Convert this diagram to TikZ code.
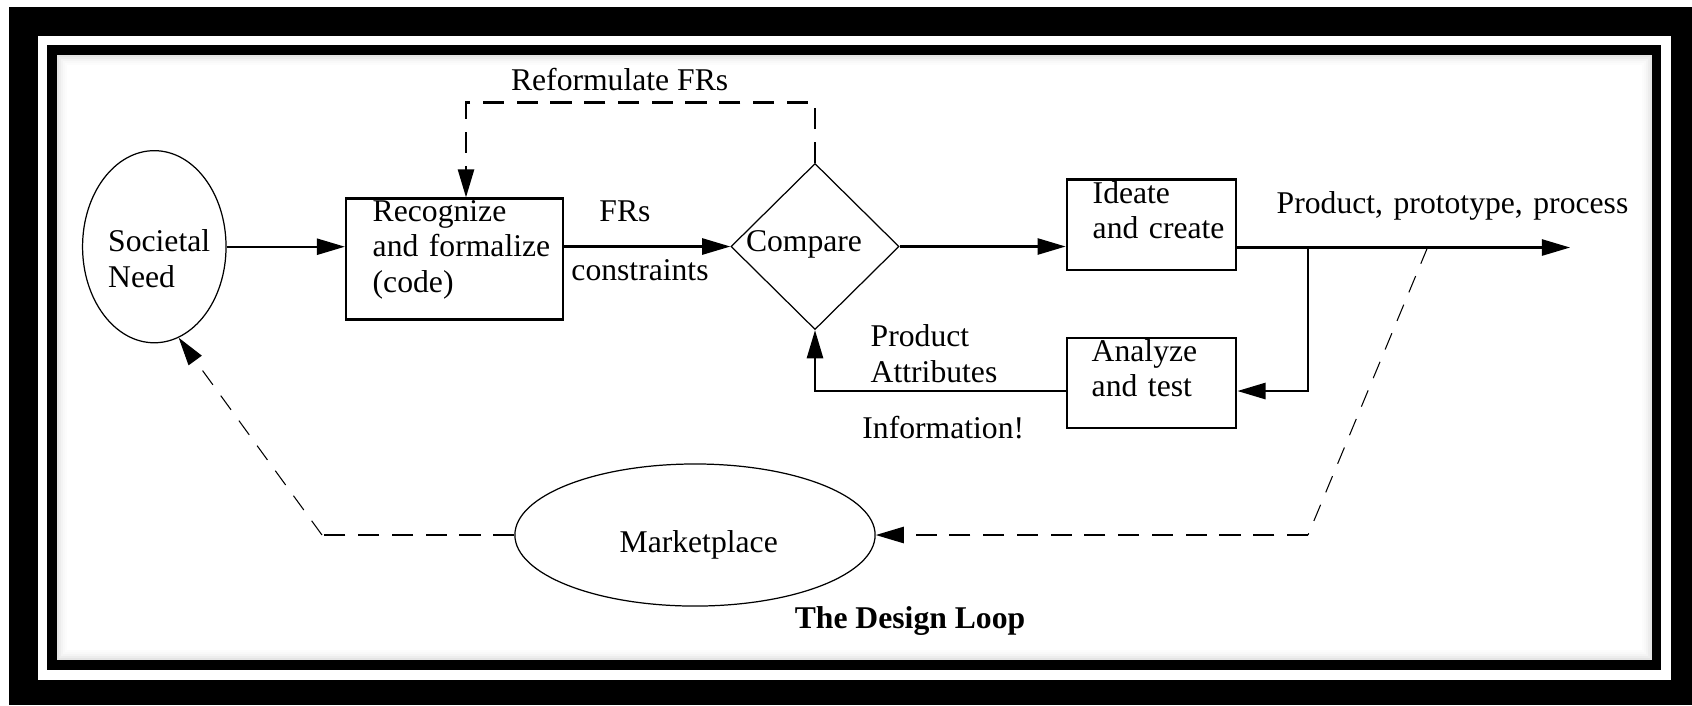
\documentclass[tikz,border=0pt]{standalone}
\usepackage{fontspec}
\setmainfont{Liberation Serif}
\usetikzlibrary{shapes.geometric,arrows.meta}

\begin{document}
\begin{tikzpicture}[x=0.01cm,y=-0.01cm,
  font=\fontsize{9}{10.1}\selectfont,
  tip/.style={-{Triangle[length=8pt,width=4.6pt]}},
  flow/.style={line width=0.6pt},
  loopdash/.style={line width=0.6pt, dash pattern=on 6pt off 3.6pt},
  thindash/.style={line width=0.3pt, dash pattern=on 5pt off 3.8pt},
  stepbox/.style={draw, line width=0.6pt, rectangle, inner sep=0},
  blob/.style={draw, ellipse, line width=0.35pt, inner sep=0},
  decide/.style={draw, diamond, line width=0.35pt, inner sep=0},
  txt/.style={inner sep=0, text width=4cm, align=left, anchor=base west},
  tag/.style={inner sep=0, anchor=base}
]
% frame: black band, white gap, black band, shaded panel
\useasboundingbox (0,0) rectangle (1692,705);
\fill[white] (0,0) rectangle (1692,705);
\fill[black] (9,7) rectangle (1692,705);
\fill[white] (38,36) rectangle (1671,680);
\fill[black] (47,45) rectangle (1661,670);
\foreach \i/\c in {0/10,2/7,4/4.5,6/2.5,8/1,10/0}
  \fill[black!\c] (57+\i,55+\i) rectangle (1652-\i,660-\i);

% blocks
\node[blob, minimum width=1.434cm, minimum height=1.92cm] (soc) at (154.3,246.7) {};
\node[txt] (soct) at (107.5,251.7) {Societal\\Need};

\node[stepbox, minimum width=2.17cm, minimum height=1.21cm] (rec) at (454.5,259) {};
\node[txt] (rect) at (372,221) {Recognize\\and formalize\\(code)};

\node[decide, minimum width=1.68cm, minimum height=1.66cm] (cmp) at (815,246.5) {};
\node[tag] (cmpt) at (804,251.7) {Compare};

\node[stepbox, minimum width=1.695cm, minimum height=0.905cm] (ide) at (1151.5,224.75) {};
\node[txt] (idet) at (1092,203.3) {Ideate\\and create};

\node[stepbox, minimum width=1.695cm, minimum height=0.907cm] (ana) at (1151.5,383) {};
\node[txt] (anat) at (1091,361) {Analyze\\and test};

\node[blob, minimum width=3.6cm, minimum height=1.42cm] (mkt) at (695,535) {};
\node[tag] (mktt) at (698.7,552) {Marketplace};

% labels
\node[tag] (frs) at (625,221.7) {FRs};
\node[tag] (cons) at (640,280) {constraints};
\node[tag] (refo) at (619.6,90) {Reformulate FRs};
\node[txt] (attr) at (870,346.7) {Product\\Attributes};
\node[txt] (info) at (861.7,438.3) {Information!};
\node[txt] (prod) at (1276,213.3) {Product, prototype, process};
\node[tag, font=\fontsize{9}{10.1}\selectfont\bfseries] (title) at (910,628.5) {The Design Loop};

% bend points
\coordinate (br) at (1308,247.5);
\coordinate (br2) at (1308,391);
\coordinate (out) at (1570,247.5);
\coordinate (rf) at (466,102.5);
\coordinate (sl) at (1427.5,247.5);
\coordinate (mr) at (1308,535);
\coordinate (ml) at (322,535);

% connectors
\draw[flow,tip] (soc.east) -- (soc.east -| rec.west);
\draw[flow,tip] (rec.east |- cmp.west) -- (cmp.west);
\draw[flow,tip] (cmp.east) -- (cmp.east -| ide.west);
\draw[flow,tip] (br -| ide.east) -- (out);
\draw[flow,tip] (br) -- (br2) -- (br2 -| ana.east);
\draw[flow,tip] (br2 -| ana.west) -| (cmp.south);
\draw[loopdash,tip] (cmp.north) |- (rf) -- (rf |- rec.north);
\draw[thindash] (sl) -- (mr);
\draw[loopdash,tip] (mr) -- (mkt.east);
\draw[loopdash] (mkt.west) -- (ml);
\draw[thindash,tip] (ml) -- (soc.-75);
\end{tikzpicture}
\end{document}
